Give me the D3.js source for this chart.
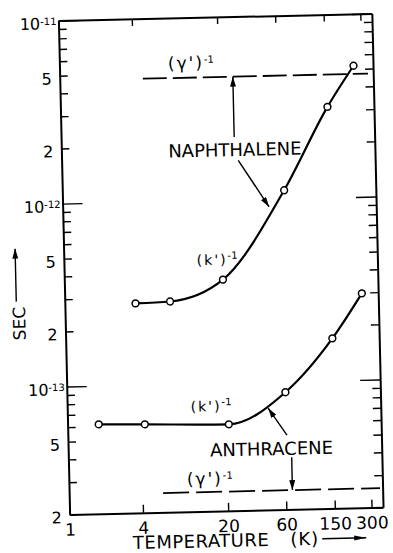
<!DOCTYPE html>
<html>
<head>
<meta charset="utf-8">
<script src="https://cdn.jsdelivr.net/npm/d3@7"></script>
<style>
  body { margin:0; background:#fff; }
  svg { display:block; font-family:"DejaVu Sans", sans-serif; }
</style>
</head>
<body>
<div id="chart"></div>
<script>
// values (temperature in K, time in sec)
var naphTemp = [3.8, 7.3, 20, 66, 155, 258];
var naphSec  = [2.79e-13, 2.83e-13, 3.67e-13, 1.11e-12, 3.13e-12, 5.21e-12];
var anthTemp = [1.8, 4.3, 21, 62, 154, 274];
var anthSec  = [6.16e-14, 6.08e-14, 5.94e-14, 8.75e-14, 1.70e-13, 2.97e-13];

// (gamma')^-1 levels: naphthalene, anthracene
var gammaSec  = [4.7e-12, 2.55e-14];
var gammaFrom = [4.8, 5.9];
var gammaTo   = [338, 355];

var xTicks = [1, 4, 20, 60, 150, 300];
var xTickLabels = ["1", "4", "20", "60", "150", "300"];
var yLabelValues = [2e-14, 5e-14, 1e-13, 2e-13, 5e-13, 1e-12, 2e-12, 5e-12, 1e-11];
var yLabelBase   = ["2", "5", "10", "2", "5", "10", "2", "5", "10"];
var yLabelExp    = ["", "", "-13", "", "", "-12", "", "", "-11"];

var W = 393, H = 553;
var frame = {left:64, right:377.5, top:17, bottom:511};

var x = d3.scaleLog().domain([1, 373]).range([frame.left, frame.right]);
var y = d3.scaleLog().domain([2e-14, 1e-11]).range([frame.bottom, frame.top]);

var svg = d3.select("#chart").append("svg").attr("width", W).attr("height", H);

// the scanned figure sits a little tilted
var g = svg.append("g").attr("transform", "rotate(-1.3,220,265)");

var defs = svg.append("defs");
defs.append("marker").attr("id", "head")
    .attr("viewBox", "0 -3 10 6").attr("markerUnits", "userSpaceOnUse")
    .attr("markerWidth", 10).attr("markerHeight", 6).attr("refX", 10).attr("refY", 0)
    .attr("orient", "auto")
  .append("path").attr("d", "M0,-3L10,0L0,3Z").attr("fill", "#000");
defs.append("marker").attr("id", "headLong")
    .attr("viewBox", "0 -2.6 12 5.2").attr("markerUnits", "userSpaceOnUse")
    .attr("markerWidth", 12).attr("markerHeight", 5.2).attr("refX", 12).attr("refY", 0)
    .attr("orient", "auto")
  .append("path").attr("d", "M0,-2.6L12,0L0,2.6Z").attr("fill", "#000");

function isDecade(d) {
  var l = Math.log10(d);
  return Math.abs(l - Math.round(l)) < 1e-6;
}
function yLabelIndex(d) {
  return yLabelValues.findIndex(function(v){ return Math.abs(v - d) / v < 1e-6; });
}

// axes, ticks pointing inside the frame
var xBottom = g.append("g").attr("transform", "translate(0," + frame.bottom + ")")
  .call(d3.axisBottom(x).tickValues(xTicks)
        .tickFormat(function(d, i){ return xTickLabels[i]; })
        .tickSizeInner(-8).tickSizeOuter(0).tickPadding(9));
var xTop = g.append("g").attr("transform", "translate(0," + frame.top + ")")
  .call(d3.axisTop(x).tickValues(xTicks).tickFormat("")
        .tickSizeInner(-7).tickSizeOuter(0));
var yLeft = g.append("g").attr("transform", "translate(" + frame.left + ",0)")
  .call(d3.axisLeft(y).tickValues(y.ticks()).tickFormat("")
        .tickSizeInner(-8).tickSizeOuter(0).tickPadding(8));
var yRight = g.append("g").attr("transform", "translate(" + frame.right + ",0)")
  .call(d3.axisRight(y).tickValues(y.ticks()).tickFormat("")
        .tickSizeInner(-8).tickSizeOuter(0));

yLeft.selectAll(".tick line").filter(isDecade).attr("x2", 20);
yRight.selectAll(".tick line").filter(isDecade).attr("x2", -20);

yLeft.selectAll(".tick text").each(function(d) {
  var i = yLabelIndex(d);
  var t = d3.select(this);
  if (i < 0) { t.text(""); return; }
  t.text(yLabelBase[i]).attr("y", 3);
  if (yLabelExp[i]) {
    t.attr("x", -2);
    t.append("tspan").attr("dy", "-0.45em").attr("font-size", 10).text(yLabelExp[i]);
  }
});

[xBottom, xTop, yLeft, yRight].forEach(function(a) {
  a.attr("font-family", "DejaVu Sans, sans-serif").attr("font-size", 16);
  a.select(".domain").attr("stroke", "#000").attr("stroke-width", 2);
  a.selectAll(".tick line").attr("stroke", "#000").attr("stroke-width", 1.4);
  a.selectAll(".tick text").attr("fill", "#000");
});
xBottom.attr("font-size", 17);

// dashed (gamma')^-1 levels
g.selectAll(".gamma").data(gammaSec).enter().append("line").attr("class", "gamma")
  .attr("x1", function(d, i){ return x(gammaFrom[i]); })
  .attr("x2", function(d, i){ return x(gammaTo[i]); })
  .attr("y1", function(d){ return y(d); })
  .attr("y2", function(d){ return y(d); })
  .attr("stroke", "#000").attr("stroke-width", 1.8)
  .attr("stroke-dasharray", function(d, i){ return i == 0 ? "24,6" : "26,7"; });

// (k')^-1 curves with measured points
var series = [
  naphTemp.map(function(t, i){ return [t, naphSec[i]]; }),
  anthTemp.map(function(t, i){ return [t, anthSec[i]]; })
];
var line = d3.line().x(function(d){ return x(d[0]); }).y(function(d){ return y(d[1]); })
  .curve(d3.curveMonotoneX);

g.selectAll(".curve").data(series).enter().append("path").attr("class", "curve")
  .attr("d", line).attr("fill", "none").attr("stroke", "#000").attr("stroke-width", 2.2);

g.selectAll(".dot").data(series[0].concat(series[1])).enter().append("circle").attr("class", "dot")
  .attr("cx", function(d){ return x(d[0]); }).attr("cy", function(d){ return y(d[1]); })
  .attr("r", 3.4).attr("fill", "#fff").attr("stroke", "#000").attr("stroke-width", 1.5);

// annotations, anchored in data coordinates
var notes = [
  {text:"(γ')", sup:"-1", t:7.77, v:5.26e-12, anchor:"start", size:17, ls:2},
  {text:"NAPHTHALENE", t:26.5, v:1.73e-12, anchor:"middle", size:18, ls:0},
  {text:"(k')", sup:"-1", t:12.3, v:4.44e-13, anchor:"start", size:14, ls:2},
  {text:"(k')", sup:"-1", t:10.3, v:7.05e-14, anchor:"start", size:14, ls:2},
  {text:"ANTHRACENE", t:46.6, v:3.98e-14, anchor:"middle", size:18, ls:0},
  {text:"(γ')", sup:"-1", t:9.29, v:2.80e-14, anchor:"start", size:17, ls:2}
];
var labels = g.selectAll(".note").data(notes).enter().append("text").attr("class", "note")
  .attr("x", function(d){ return x(d.t); }).attr("y", function(d){ return y(d.v); })
  .attr("text-anchor", function(d){ return d.anchor; })
  .attr("font-size", function(d){ return d.size; })
  .attr("letter-spacing", function(d){ return d.ls; })
  .attr("fill", "#000")
  .text(function(d){ return d.text; });
labels.filter(function(d){ return d.sup; }).append("tspan")
  .attr("dy", "-0.55em").attr("font-size", 10).attr("letter-spacing", 0)
  .text(function(d){ return d.sup; });

var pointers = [
  {from:[26.3, 2.20e-12], to:[26.3, 4.7e-12]},
  {from:[28.1, 1.64e-12], to:[49.3, 9.05e-13]},
  {from:[62.7, 5.10e-14], to:[44.4, 7.20e-14]},
  {from:[67.9, 3.86e-14], to:[67.9, 2.55e-14]}
];
g.selectAll(".pointer").data(pointers).enter().append("line").attr("class", "pointer")
  .attr("x1", function(d){ return x(d.from[0]); }).attr("y1", function(d){ return y(d.from[1]); })
  .attr("x2", function(d){ return x(d.to[0]); }).attr("y2", function(d){ return y(d.to[1]); })
  .attr("stroke", "#000").attr("stroke-width", 1.4).attr("marker-end", "url(#head)");

// axis titles
g.append("text").attr("transform", "translate(24,319) rotate(-90)")
  .attr("text-anchor", "middle").attr("font-size", 17).attr("fill", "#000").text("SEC");
g.append("line").attr("x1", 15.5).attr("y1", 297).attr("x2", 15.5).attr("y2", 244)
  .attr("stroke", "#000").attr("stroke-width", 1.4).attr("marker-end", "url(#head)");

g.append("text").attr("x", 126.6).attr("y", 547).attr("font-size", 18)
  .attr("letter-spacing", 0.5).attr("fill", "#000").text("TEMPERATURE");
g.append("text").attr("x", 284).attr("y", 547).attr("font-size", 18)
  .attr("letter-spacing", 1).attr("fill", "#000").text("(K)");
g.append("line").attr("x1", 316).attr("y1", 541).attr("x2", 360).attr("y2", 541)
  .attr("stroke", "#000").attr("stroke-width", 1.5).attr("marker-end", "url(#headLong)");
</script>
</body>
</html>
